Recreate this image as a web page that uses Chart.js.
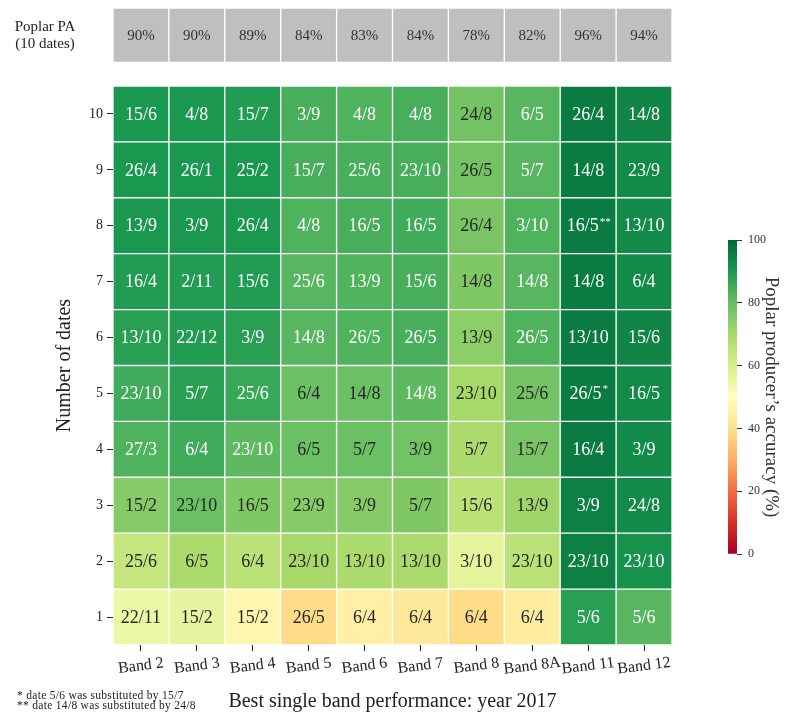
<!DOCTYPE html>
<html>
<head>
<meta charset="utf-8">
<script src="https://cdn.jsdelivr.net/npm/chart.js@4.4.1/dist/chart.umd.min.js"></script>
<style>
  body { margin: 0; background: #fff; }
  #wrap { position: relative; width: 792px; height: 716px; }
  #heat { position: absolute; left: 0; top: 0; }
  #cbar { position: absolute; left: 700px; top: 0; }
</style>
</head>
<body>
<div id="wrap">
  <canvas id="heat" width="792" height="716"></canvas>
  <canvas id="cbar" width="92" height="716"></canvas>
</div>
<script>
// bands on x, number of dates on y
const bands = ['Band 2', 'Band 3', 'Band 4', 'Band 5', 'Band 6', 'Band 7', 'Band 8', 'Band 8A', 'Band 11', 'Band 12'];
const rowNumbers = [1, 2, 3, 4, 5, 6, 7, 8, 9, 10];
const poplarPA = [90, 90, 89, 84, 83, 84, 78, 82, 96, 94];

// poplar producer's accuracy (%) per row
const acc1  = [55, 56, 47, 39, 45, 43, 39, 44, 88, 82];
const acc2  = [64, 69, 66, 70, 69, 69, 57, 66, 95, 91];
const acc3  = [75, 79, 76, 75, 75, 76, 66, 71, 95, 93];
const acc4  = [83, 85, 81, 79, 79, 78, 69, 77, 96, 93];
const acc5  = [85, 88, 86, 79, 79, 81, 70, 78, 96, 93];
const acc6  = [88, 89, 88, 82, 83, 84, 74, 83, 96, 94];
const acc7  = [89, 89, 89, 82, 83, 84, 76, 82, 96, 93];
const acc8  = [90, 90, 90, 83, 84, 85, 77, 83, 96, 93];
const acc9  = [90, 90, 90, 84, 84, 84, 78, 82, 96, 93];
const acc10 = [90, 90, 89, 84, 83, 84, 78, 82, 96, 94];

// best dates shown in the cells
const dates1  = ['22/11', '15/2', '15/2', '26/5', '6/4', '6/4', '6/4', '6/4', '5/6', '5/6'];
const dates2  = ['25/6', '6/5', '6/4', '23/10', '13/10', '13/10', '3/10', '23/10', '23/10', '23/10'];
const dates3  = ['15/2', '23/10', '16/5', '23/9', '3/9', '5/7', '15/6', '13/9', '3/9', '24/8'];
const dates4  = ['27/3', '6/4', '23/10', '6/5', '5/7', '3/9', '5/7', '15/7', '16/4', '3/9'];
const dates5  = ['23/10', '5/7', '25/6', '6/4', '14/8', '14/8', '23/10', '25/6', '26/5*', '16/5'];
const dates6  = ['13/10', '22/12', '3/9', '14/8', '26/5', '26/5', '13/9', '26/5', '13/10', '15/6'];
const dates7  = ['16/4', '2/11', '15/6', '25/6', '13/9', '15/6', '14/8', '14/8', '14/8', '6/4'];
const dates8  = ['13/9', '3/9', '26/4', '4/8', '16/5', '16/5', '26/4', '3/10', '16/5**', '13/10'];
const dates9  = ['26/4', '26/1', '25/2', '15/7', '25/6', '23/10', '26/5', '5/7', '14/8', '23/9'];
const dates10 = ['15/6', '4/8', '15/7', '3/9', '4/8', '4/8', '24/8', '6/5', '26/4', '14/8'];

const footnotes = ['* date 5/6 was substituted by 15/7', '** date 14/8 was substituted by 24/8'];

const accRows = [acc1, acc2, acc3, acc4, acc5, acc6, acc7, acc8, acc9, acc10];
const dateRows = [dates1, dates2, dates3, dates4, dates5, dates6, dates7, dates8, dates9, dates10];

// layout of the grey PA strip above the grid (in row units)
const GAP = 0.422;
const GRAY_H = 0.973;
const FONT = '"Liberation Serif", "DejaVu Serif", serif';
const INK = '#222';

// matplotlib RdYlGn
const rdylgn = [[165,0,38],[215,48,39],[244,109,67],[253,174,97],[254,224,139],[255,255,191],
                [217,239,139],[166,217,106],[102,189,99],[26,152,80],[0,104,55]];
function cmap(v) {
  const t = Math.max(0, Math.min(1, v / 100)) * 10;
  const i = Math.min(9, Math.floor(t));
  const f = t - i;
  const a = rdylgn[i], b = rdylgn[i + 1];
  return a.map((c, k) => Math.round(c + (b[k] - c) * f));
}
function rgbStr(c) { return 'rgb(' + c.join(',') + ')'; }
function luminance(c) {
  const l = c.map(x => { x /= 255; return x <= 0.03928 ? x / 12.92 : Math.pow((x + 0.055) / 1.055, 2.4); });
  return 0.2126 * l[0] + 0.7152 * l[1] + 0.0722 * l[2];
}

const datasets = accRows.map((acc, r) => ({
  label: String(rowNumbers[r]),
  data: acc.map(() => [r, r + 1]),
  backgroundColor: acc.map(v => rgbStr(cmap(v))),
  cellText: dateRows[r],
  cellInk: acc.map(v => luminance(cmap(v)) > 0.408 ? '#262626' : '#fff'),
  cellFont: 18
}));
datasets.push({
  label: 'Poplar PA',
  data: poplarPA.map(() => [rowNumbers.length + GAP, rowNumbers.length + GAP + GRAY_H]),
  backgroundColor: '#bfbfbf',
  cellText: poplarPA.map(v => v + '%'),
  cellInk: poplarPA.map(() => '#333'),
  cellFont: 15
});
datasets.forEach(ds => Object.assign(ds, {
  borderColor: '#fff', borderWidth: 1, borderSkipped: false,
  barPercentage: 1, categoryPercentage: 1, grouped: false
}));

const annotate = {
  id: 'annotate',
  afterDatasetsDraw(chart) {
    const ctx = chart.ctx;
    ctx.save();
    ctx.textBaseline = 'middle';
    chart.data.datasets.forEach((ds, di) => {
      const meta = chart.getDatasetMeta(di);
      meta.data.forEach((bar, i) => {
        const txt = ds.cellText[i];
        const base = txt.replace(/\*+$/, '');
        const sup = txt.slice(base.length);
        const cx = bar.x, cy = (bar.y + bar.base) / 2;
        ctx.fillStyle = ds.cellInk[i];
        ctx.font = ds.cellFont + 'px ' + FONT;
        const w1 = ctx.measureText(base).width;
        ctx.font = '11px ' + FONT;
        const w2 = sup ? ctx.measureText(sup).width : 0;
        const x0 = cx - (w1 + w2) / 2;
        ctx.textAlign = 'left';
        ctx.font = ds.cellFont + 'px ' + FONT;
        ctx.fillText(base, x0, cy + 1);
        if (sup) {
          ctx.font = '11px ' + FONT;
          ctx.fillText(sup, x0 + w1 + 1, cy - 4);
        }
      });
    });
    ctx.restore();
  },
  afterDraw(chart) {
    const ctx = chart.ctx;
    const xs = chart.scales.x;
    const ys = chart.scales.y;
    const area = chart.chartArea;
    ctx.save();
    ctx.fillStyle = INK;
    ctx.textAlign = 'center';
    ctx.textBaseline = 'middle';
    // slightly rotated band labels
    ctx.font = '16px ' + FONT;
    bands.forEach((b, i) => {
      ctx.save();
      ctx.translate(xs.getPixelForTick(i), area.bottom + 21);
      ctx.rotate(-7 * Math.PI / 180);
      ctx.fillText(b, 0, 0);
      ctx.restore();
    });
    // y title, centred on the grid rows only
    ctx.save();
    ctx.font = '20px ' + FONT;
    ctx.translate(65, (ys.getPixelForValue(0) + ys.getPixelForValue(rowNumbers.length)) / 2);
    ctx.rotate(-Math.PI / 2);
    ctx.fillText('Number of dates', 0, 0);
    ctx.restore();
    // label of the grey strip
    const grey = chart.getDatasetMeta(chart.data.datasets.length - 1).data[0];
    const gy = (grey.y + grey.base) / 2;
    ctx.font = '15px ' + FONT;
    ctx.fillText('Poplar PA', area.left - 68, gy - 8);
    ctx.fillText('(10 dates)', area.left - 68, gy + 9);
    // footnotes
    ctx.textAlign = 'left';
    ctx.font = '11.5px ' + FONT;
    ctx.letterSpacing = '0.3px';
    ctx.fillText(footnotes[0], 17, 696);
    ctx.fillText(footnotes[1], 17, 706);
    ctx.restore();
  }
};

new Chart(document.getElementById('heat'), {
  type: 'bar',
  data: { labels: bands, datasets: datasets },
  options: {
    responsive: false,
    animation: false,
    layout: { padding: { left: 0, top: 8, right: 120, bottom: 0 } },
    plugins: { legend: { display: false }, tooltip: { enabled: false } },
    scales: {
      x: {
        offset: true,
        grid: { offset: false, drawOnChartArea: false, tickLength: 6, color: INK },
        border: { display: false },
        ticks: { display: false },
        title: { display: true, text: 'Best single band performance: year 2017',
                 font: { size: 20, family: FONT }, color: INK, padding: { top: 0, bottom: 2 } },
        afterFit: s => { s.height = 71; }
      },
      y: {
        min: 0,
        max: rowNumbers.length + GAP + GRAY_H,
        afterBuildTicks: s => { s.ticks = rowNumbers.map((n, i) => ({ value: i + 0.5 })); },
        ticks: { callback: (v, i) => rowNumbers[i], font: { size: 14, family: FONT }, color: INK, padding: 4 },
        grid: { drawOnChartArea: false, tickLength: 6, color: INK },
        border: { display: false },
        afterFit: s => { s.width = 113; s.paddingTop = 0; s.paddingBottom = 0; }
      }
    }
  },
  plugins: [annotate]
});

// colour bar
new Chart(document.getElementById('cbar'), {
  type: 'bar',
  data: {
    labels: [''],
    datasets: [{
      data: [[0, 100]],
      backgroundColor: c => {
        const area = c.chart.chartArea;
        if (!area) return null;
        const g = c.chart.ctx.createLinearGradient(0, area.bottom, 0, area.top);
        rdylgn.forEach((col, i) => g.addColorStop(i / 10, rgbStr(col)));
        return g;
      },
      borderWidth: 0,
      barPercentage: 1,
      categoryPercentage: 1
    }]
  },
  options: {
    responsive: false,
    animation: false,
    layout: { padding: { left: 28, top: 240, bottom: 162, right: 0 } },
    plugins: { legend: { display: false }, tooltip: { enabled: false } },
    scales: {
      x: { display: false },
      y: {
        position: 'right',
        min: 0, max: 100,
        ticks: { stepSize: 20, font: { size: 12, family: FONT }, color: '#333', padding: 6 },
        grid: { drawOnChartArea: false, tickLength: 5, color: '#333' },
        border: { display: false },
        title: { display: true, text: 'Poplar producer’s accuracy (%)',
                 font: { size: 19, family: FONT }, color: '#333', padding: { top: 10, bottom: 0 } },
        afterFit: s => { s.width = 55; }
      }
    }
  }
});
</script>
</body>
</html>
